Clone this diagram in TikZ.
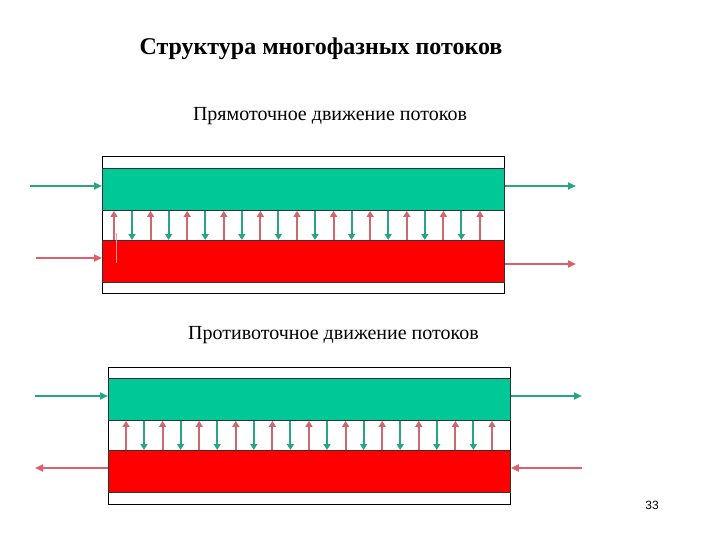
\documentclass[tikz,border=0pt]{standalone}
\usepackage{fontspec}
\setmainfont{Liberation Serif}
\newfontfamily\pagefont{Liberation Sans}
\usetikzlibrary{arrows.meta}
\definecolor{bandgreen}{RGB}{0,200,150}
\definecolor{bandred}{RGB}{255,0,0}
\definecolor{arrgreen}{RGB}{40,165,130}
\definecolor{arrred}{RGB}{205,105,110}
\definecolor{harrred}{RGB}{220,95,105}
\tikzset{
  outerbox/.style={draw=black, line width=1.2pt, anchor=north west, minimum width=402pt, minimum height=137pt, inner sep=0pt},
  band/.style={draw=black!80, line width=0.9pt, anchor=north west, minimum width=402pt, minimum height=42pt, inner sep=0pt},
  varr/.style={line width=2pt, -{Triangle[length=6pt,width=7pt]}},
  harr/.style={line width=2pt, -{Triangle[length=8pt,width=7pt]}},
}
\begin{document}
\begin{tikzpicture}[x=1pt,y=-1pt]
\useasboundingbox (0,0) rectangle (720,540);
% titles
\node (title) at (321,49) {\fontsize{24}{28}\selectfont\bfseries Структура многофазных потоков};
\node (sub1) at (330,116) {\fontsize{20}{24}\selectfont Прямоточное движение потоков};
\node (sub2) at (333.5,335) {\fontsize{20}{24}\selectfont Противоточное движение потоков};
\node (page) at (652,505) {\pagefont\fontsize{12}{14}\selectfont 33};
% ---------- top: co-current ----------
\node[outerbox] (o1) at (102,156) {};
\node[band, fill=bandgreen] (g1) at (102,168) {};
\node[band, fill=bandred] (r1) at (102,240) {};
\foreach \k in {0,...,10} {
  \pgfmathsetmacro{\xr}{114+36.6*\k}
  \draw[varr, arrred] (\xr,0 |- r1.north) -- (\xr,0 |- g1.south);
}
\foreach \k in {0,...,9} {
  \pgfmathsetmacro{\xg}{132+36.6*\k}
  \draw[varr, arrgreen] (\xg,0 |- g1.south) -- (\xg,0 |- r1.north);
}
\draw[line width=0.7pt, harrred!60] (116,233) -- (116,263);
\coordinate (gin1) at (30,186);
\coordinate (rin1) at (36,258);
\coordinate (gout1) at (576,186);
\coordinate (rout1) at (576,264);
\draw[harr, arrgreen] (gin1) -- (gin1 -| g1.west);
\draw[harr, harrred] (rin1) -- (rin1 -| r1.west);
\draw[harr, arrgreen] (gout1 -| g1.east) -- (gout1);
\draw[harr, harrred] (rout1 -| r1.east) -- (rout1);
% ---------- bottom: counter-current ----------
\node[outerbox] (o2) at (108,367) {};
\node[band, fill=bandgreen] (g2) at (108,378) {};
\node[band, fill=bandred] (r2) at (108,450) {};
\foreach \k in {0,...,10} {
  \pgfmathsetmacro{\xr}{126+36.6*\k}
  \draw[varr, arrred] (\xr,0 |- r2.north) -- (\xr,0 |- g2.south);
}
\foreach \k in {0,...,9} {
  \pgfmathsetmacro{\xg}{144+36.6*\k}
  \draw[varr, arrgreen] (\xg,0 |- g2.south) -- (\xg,0 |- r2.north);
}
\coordinate (gin2) at (35,396);
\coordinate (rout2) at (35,468);
\coordinate (gout2) at (582,396);
\coordinate (rin2) at (582,468);
\draw[harr, arrgreen] (gin2) -- (gin2 -| g2.west);
\draw[harr, harrred] (rout2 -| r2.west) -- (rout2);
\draw[harr, arrgreen] (gout2 -| g2.east) -- (gout2);
\draw[harr, harrred] (rin2) -- (rin2 -| r2.east);
\end{tikzpicture}
\end{document}
